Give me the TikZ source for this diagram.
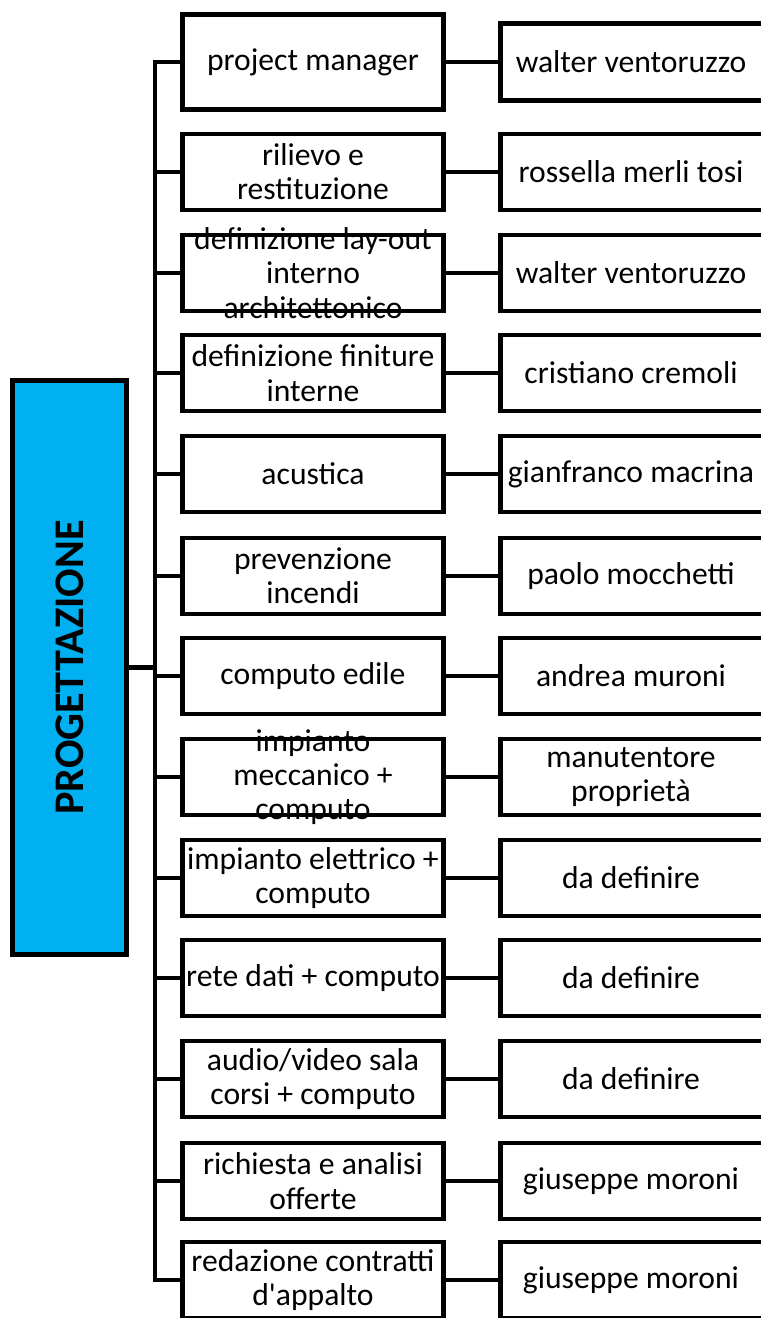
\documentclass[tikz,border=0pt]{standalone}
\usepackage{fontspec}
\setmainfont{Carlito}
\definecolor{progblue}{HTML}{00B0F0}

\begin{document}
\begin{tikzpicture}[y=-1cm,
  box/.style={draw=black,line width=2.6pt,minimum width=5.23cm,minimum height=1.52cm,inner sep=0pt},
  whobox/.style={box,minimum width=5.4cm},
  txt/.style={text=black,align=center,inner sep=0pt,font=\fontsize{18pt}{19.5pt}\selectfont},
  link/.style={draw=black,line width=2.6pt}]

\useasboundingbox (0,0) rectangle (15.2,26.36);

% main block:
\node[box,fill=progblue,minimum width=2.29cm,minimum height=11.49cm] (prog) at (1.39,13.35) {};
\node[txt,rotate=90,font=\fontsize{24pt}{28pt}\selectfont\bfseries] (progtxt) at (prog) {PROGETTAZIONE};
\coordinate (trunk) at (3.1,13.35);

% tasks:
\node[box,minimum height=1.91cm] (task1) at (6.26,1.24) {};
\node[box] (task2) at (6.26,3.44) {};
\node[box] (task3) at (6.26,5.46) {};
\node[box] (task4) at (6.26,7.46) {};
\node[box] (task5) at (6.26,9.48) {};
\node[box] (task6) at (6.26,11.52) {};
\node[box] (task7) at (6.26,13.52) {};
\node[box] (task8) at (6.26,15.54) {};
\node[box] (task9) at (6.26,17.56) {};
\node[box] (task10) at (6.26,19.56) {};
\node[box] (task11) at (6.26,21.58) {};
\node[box] (task12) at (6.26,23.62) {};
\node[box] (task13) at (6.26,25.6) {};
\node[txt] (tasktxt1) at (task1) {project manager};
\node[txt] (tasktxt2) at (task2) {rilievo e\\restituzione};
\node[txt] (tasktxt3) at (task3) {definizione lay-out\\interno\\architettonico};
\node[txt] (tasktxt4) at (task4) {definizione finiture\\interne};
\node[txt] (tasktxt5) at (task5) {acustica};
\node[txt] (tasktxt6) at (task6) {prevenzione\\incendi};
\node[txt] (tasktxt7) at (task7) {computo edile};
\node[txt] (tasktxt8) at (task8) {impianto\\meccanico +\\computo};
\node[txt] (tasktxt9) at (task9) {impianto elettrico +\\computo};
\node[txt] (tasktxt10) at (task10) {rete dati + computo};
\node[txt] (tasktxt11) at (task11) {audio/video sala\\corsi + computo};
\node[txt] (tasktxt12) at (task12) {richiesta e analisi\\offerte};
\node[txt] (tasktxt13) at (task13) {redazione contratti\\d\textquotesingle appalto};

% people:
\node[whobox,minimum height=1.55cm] (who1) at (12.705,1.24) {};
\node[whobox] (who2) at (12.705,3.44) {};
\node[whobox] (who3) at (12.705,5.46) {};
\node[whobox] (who4) at (12.705,7.46) {};
\node[whobox] (who5) at (12.705,9.48) {};
\node[whobox] (who6) at (12.705,11.52) {};
\node[whobox] (who7) at (12.705,13.52) {};
\node[whobox] (who8) at (12.705,15.54) {};
\node[whobox] (who9) at (12.705,17.56) {};
\node[whobox] (who10) at (12.705,19.56) {};
\node[whobox] (who11) at (12.705,21.58) {};
\node[whobox] (who12) at (12.705,23.62) {};
\node[whobox] (who13) at (12.705,25.6) {};
\node[txt] (whotxt1) at (12.62,1.24) {walter ventoruzzo};
\node[txt] (whotxt2) at (12.62,3.44) {rossella merli tosi};
\node[txt] (whotxt3) at (12.62,5.46) {walter ventoruzzo};
\node[txt] (whotxt4) at (12.62,7.46) {cristiano cremoli};
\node[txt] (whotxt5) at (12.62,9.48) {gianfranco macrina};
\node[txt] (whotxt6) at (12.62,11.52) {paolo mocchetti};
\node[txt] (whotxt7) at (12.62,13.52) {andrea muroni};
\node[txt] (whotxt8) at (12.62,15.54) {manutentore\\proprietà};
\node[txt] (whotxt9) at (12.62,17.56) {da definire};
\node[txt] (whotxt10) at (12.62,19.56) {da definire};
\node[txt] (whotxt11) at (12.62,21.58) {da definire};
\node[txt] (whotxt12) at (12.62,23.62) {giuseppe moroni};
\node[txt] (whotxt13) at (12.62,25.6) {giuseppe moroni};

% tree lines:
\draw[link] (prog.east) -- (prog.east -| trunk);
\draw[link] (task1.west) -- (task1.west -| trunk) -- (task13.west -| trunk) -- (task13.west);
\draw[link] (task2.west -| trunk) -- (task2.west);
\draw[link] (task3.west -| trunk) -- (task3.west);
\draw[link] (task4.west -| trunk) -- (task4.west);
\draw[link] (task5.west -| trunk) -- (task5.west);
\draw[link] (task6.west -| trunk) -- (task6.west);
\draw[link] (task7.west -| trunk) -- (task7.west);
\draw[link] (task8.west -| trunk) -- (task8.west);
\draw[link] (task9.west -| trunk) -- (task9.west);
\draw[link] (task10.west -| trunk) -- (task10.west);
\draw[link] (task11.west -| trunk) -- (task11.west);
\draw[link] (task12.west -| trunk) -- (task12.west);
\draw[link] (task1.east) -- (who1.west);
\draw[link] (task2.east) -- (who2.west);
\draw[link] (task3.east) -- (who3.west);
\draw[link] (task4.east) -- (who4.west);
\draw[link] (task5.east) -- (who5.west);
\draw[link] (task6.east) -- (who6.west);
\draw[link] (task7.east) -- (who7.west);
\draw[link] (task8.east) -- (who8.west);
\draw[link] (task9.east) -- (who9.west);
\draw[link] (task10.east) -- (who10.west);
\draw[link] (task11.east) -- (who11.west);
\draw[link] (task12.east) -- (who12.west);
\draw[link] (task13.east) -- (who13.west);

\end{tikzpicture}
\end{document}
